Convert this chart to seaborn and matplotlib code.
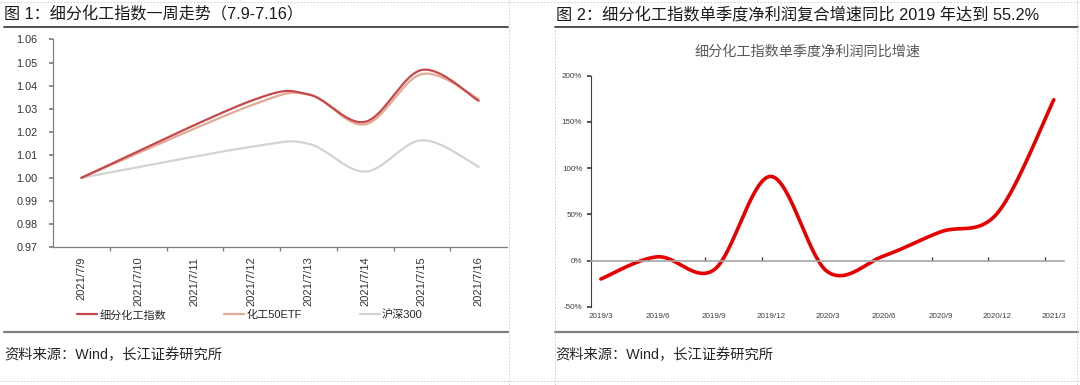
import numpy as np
import pandas as pd
import matplotlib
matplotlib.use("Agg")
import matplotlib.pyplot as plt
from matplotlib.lines import Line2D
from matplotlib.ticker import FixedLocator, FuncFormatter
import seaborn as sns

# ---- data: chart 1 (trading days only) ----
trade_dates = ["2021-07-09", "2021-07-12", "2021-07-13", "2021-07-14", "2021-07-15", "2021-07-16"]
chem_index = [1.000, 1.0335, 1.0362, 1.0243, 1.0468, 1.0334]
chem_etf = [1.000, 1.0315, 1.0362, 1.0232, 1.0450, 1.0342]
hs300 = [1.000, 1.0135, 1.0148, 1.0027, 1.0163, 1.0048]
day_labels = ["2021/7/9", "2021/7/10", "2021/7/11", "2021/7/12",
              "2021/7/13", "2021/7/14", "2021/7/15", "2021/7/16"]

# ---- data: chart 2 ----
quarters = ["2019/3", "2019/6", "2019/9", "2019/12", "2020/3",
            "2020/6", "2020/9", "2020/12", "2021/3"]
profit_yoy = [-20, 4, -10, 91, -12, 5, 31, 51, 174]  # %

W, H = 1080, 385


def box(x0, y0, x1, y1):
    return [x0 / W, 1 - y1 / H, (x1 - x0) / W, (y1 - y0) / H]


def smooth(x, y, n=40):
    # Excel-style smoothed line: cubic bezier, control points from neighbours
    p = np.column_stack([x, y]).astype(float)
    ext = np.vstack([p[0], p, p[-1]])
    out = []
    t = np.linspace(0, 1, n)[:, None]
    for i in range(len(p) - 1):
        p0, p1 = ext[i + 1], ext[i + 2]
        c1 = p0 + (ext[i + 2] - ext[i]) / 6
        c2 = p1 - (ext[i + 3] - ext[i + 1]) / 6
        seg = ((1 - t) ** 3) * p0 + 3 * ((1 - t) ** 2) * t * c1 + 3 * (1 - t) * t ** 2 * c2 + t ** 3 * p1
        out.append(seg if i == 0 else seg[1:])
    s = np.vstack(out)
    return pd.DataFrame({"x": s[:, 0], "y": s[:, 1]})


sns.set_theme(style="white")
plt.rcParams["font.family"] = ["Liberation Sans", "Noto Sans CJK SC", "DejaVu Sans"]

fig = plt.figure(figsize=(10.8, 3.85), dpi=100)

# ==========================================
# chart 1
# ==========================================
ax1 = fig.add_axes(box(53, 39.5, 507, 247))
days = (pd.to_datetime(trade_dates) - pd.Timestamp(trade_dates[0])).days.values

series = [("细分化工指数", chem_index, "#C8474A"),
          ("化工50ETF", chem_etf, "#E3AB96"),
          ("沪深300", hs300, "#D3D3D3")]
handles = []
for name, vals, col in series[::-1]:
    sm = smooth(days, vals)
    sns.lineplot(data=sm, x="x", y="y", ax=ax1, sort=False, estimator=None,
                 color=col, linewidth=1.6)
for name, vals, col in series:
    handles.append(Line2D([0], [0], color=col, lw=1.6, label=name))

ax1.set_xlim(-0.5, 7.5)
ax1.set_ylim(0.97, 1.06)
ax1.set_yticks(np.arange(0.97, 1.0601, 0.01))
ax1.yaxis.set_major_formatter(FuncFormatter(lambda v, _: f"{v:.2f}"))
ax1.set_xticks(range(len(day_labels)))
ax1.set_xticklabels(day_labels, rotation=90)
ax1.xaxis.set_minor_locator(FixedLocator(np.arange(0.5, 7, 1)))
ax1.tick_params(axis="x", which="major", length=0, pad=7, labelsize=8, colors="#333333")
ax1.tick_params(axis="x", which="minor", length=3, direction="out", color="#808080", bottom=True)
ax1.tick_params(axis="y", length=3, direction="out", color="#808080", left=True,
                labelsize=7.8, labelcolor="#333333", pad=8)
for sp in ["top", "right"]:
    ax1.spines[sp].set_visible(False)
for sp in ["left", "bottom"]:
    ax1.spines[sp].set_color("#808080")
    ax1.spines[sp].set_linewidth(0.9)
ax1.set_xlabel("")
ax1.set_ylabel("")

fig.legend(handles=handles, loc="center", bbox_to_anchor=(250 / W, 1 - 315 / H),
           ncol=3, frameon=False, fontsize=8, handlelength=1.8,
           handletextpad=0.2, columnspacing=5.2)

# ==========================================
# chart 2
# ==========================================
ax2 = fig.add_axes(box(590.7, 75.7, 1064, 306.7))
qdf = pd.DataFrame({"q": np.arange(len(quarters)), "v": profit_yoy})
sm2 = smooth(qdf["q"].values, qdf["v"].values)
sns.lineplot(data=sm2, x="x", y="y", ax=ax2, sort=False, estimator=None,
             color="#E60000", linewidth=2.6)

ax2.set_xlim(-0.18, 8.18)
ax2.set_ylim(-50, 200)
ax2.set_yticks(range(-50, 201, 50))
ax2.yaxis.set_major_formatter(FuncFormatter(lambda v, _: f"{v:.0f}%"))
ax2.set_xticks(range(len(quarters)))
ax2.set_xticklabels(quarters)
ax2.xaxis.set_minor_locator(FixedLocator(np.arange(1, 9) - 0.16))
ax2.spines["bottom"].set_position(("data", 0))
ax2.spines["bottom"].set_color("#A6A6A6")
ax2.spines["bottom"].set_linewidth(1.2)
ax2.spines["left"].set_color("#404040")
ax2.spines["left"].set_linewidth(0.8)
for sp in ["top", "right"]:
    ax2.spines[sp].set_visible(False)
ax2.tick_params(axis="x", which="major", length=0, pad=38, labelsize=5.8, colors="#404040")
ax2.tick_params(axis="x", which="minor", length=3, direction="in", color="#404040", bottom=True)
ax2.tick_params(axis="y", length=3, direction="out", color="#404040", left=True,
                labelsize=5.8, labelcolor="#404040", pad=3)
ax2.set_xlabel("")
ax2.set_ylabel("")

fig.text(808 / W, 1 - 52 / H, "细分化工指数单季度净利润同比增速", ha="center", va="center",
         fontsize=10.2, color="#595959")

# ==========================================
# headers, footers, frame
# ==========================================
fig.text(4 / W, 1 - 14 / H, "图 1：细分化工指数一周走势（7.9-7.16）", va="center",
         fontsize=11.6, color="#1a1a1a")
fig.text(556 / W, 1 - 14 / H, "图 2：细分化工指数单季度净利润复合增速同比 2019 年达到 55.2%",
         va="center", fontsize=11.7, color="#1a1a1a")
for x0, x1 in [(4, 508), (555, 1078)]:
    fig.add_artist(Line2D([x0 / W, x1 / W], [1 - 27 / H] * 2, color="#333333", lw=1.2))
    fig.add_artist(Line2D([x0 / W, x1 / W], [1 - 332 / H] * 2, color="#7F7F7F", lw=1.6))
fig.text(4 / W, 1 - 355 / H, "资料来源：Wind，长江证券研究所", va="center", fontsize=10.3, color="#262626")
fig.text(555 / W, 1 - 355 / H, "资料来源：Wind，长江证券研究所", va="center", fontsize=10.3, color="#262626")

dash = dict(color="#C8C8C8", lw=0.6, ls=(0, (2, 2)))
fig.add_artist(Line2D([508.5 / W] * 2, [0, 1], **dash))
fig.add_artist(Line2D([555 / W] * 2, [0, 1 - 30 / H], **dash))
fig.add_artist(Line2D([1077 / W] * 2, [0, 1], **dash))
fig.add_artist(Line2D([0, 1], [1 - 2 / H] * 2, **dash))
fig.add_artist(Line2D([0, 1], [1 - 381 / H] * 2, **dash))

fig.savefig("out.png", dpi=100)
